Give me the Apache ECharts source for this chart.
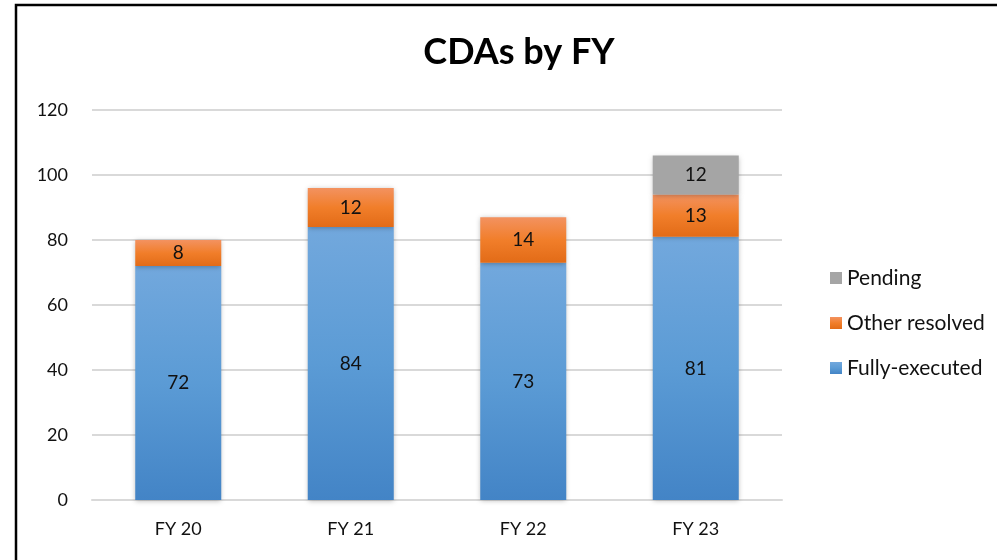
<!DOCTYPE html>
<html>
<head>
<meta charset="utf-8">
<script src="https://cdn.jsdelivr.net/npm/echarts@6/dist/echarts.min.js"></script>
<style>html,body{margin:0;padding:0;background:#fff}#c{width:997px;height:560px}</style>
</head>
<body>
<div id="c"></div>
<script>
const categories = ['FY 20', 'FY 21', 'FY 22', 'FY 23'];
const fullyExecuted = [72, 84, 73, 81];
const otherResolved = [8, 12, 14, 13];
const pending = [null, null, null, 12];
const legendOrder = ['Pending', 'Other resolved', 'Fully-executed'];

const FONT = 'Lato, "Open Sans", "Noto Sans", sans-serif';
const chart = echarts.init(document.getElementById('c'), null, {renderer: 'canvas'});

function grad(top, mid, bottom) {
  return new echarts.graphic.LinearGradient(0, 0, 0, 1, [
    {offset: 0, color: top}, {offset: 0.5, color: mid}, {offset: 1, color: bottom}
  ]);
}
const shadow = {shadowBlur: 5, shadowColor: 'rgba(0,0,0,0.28)', shadowOffsetX: 0, shadowOffsetY: 1};
const lbl = {show: true, position: 'inside', color: '#111', fontSize: 19, fontFamily: FONT};

chart.setOption({
  backgroundColor: '#fff',
  animation: false,
  title: {
    text: 'CDAs by FY', left: 514, top: 29, textAlign: 'center',
    textStyle: {fontSize: 36, fontWeight: 'bold', color: '#000', fontFamily: FONT}
  },
  graphic: [{
    type: 'rect', shape: {x: 16, y: 5, width: 1000, height: 600},
    style: {fill: 'none', stroke: '#000', lineWidth: 2.5}, z: 100
  }],
  legend: {
    orient: 'vertical', left: 825, top: 262, itemGap: 23,
    itemWidth: 12, itemHeight: 12, icon: 'rect',
    data: legendOrder,
    textStyle: {fontSize: 21, lineHeight: 22, color: '#111', fontFamily: FONT, padding: [0, 0, 0, 0]}
  },
  grid: {left: 92, right: 215, top: 110, bottom: 60},
  xAxis: {
    type: 'category', data: categories,
    axisLine: {lineStyle: {color: '#d9d9d9', width: 2}},
    axisTick: {show: false},
    axisLabel: {fontSize: 18, color: '#111', fontFamily: FONT, margin: 20}
  },
  yAxis: {
    type: 'value', min: 0, max: 120, interval: 20,
    axisLine: {show: false}, axisTick: {show: false},
    splitLine: {lineStyle: {color: '#d9d9d9', width: 2}},
    axisLabel: {fontSize: 18, color: '#111', fontFamily: FONT, margin: 24}
  },
  series: [
    {
      name: 'Fully-executed', type: 'bar', stack: 't', data: fullyExecuted, barWidth: 86,
      itemStyle: Object.assign({color: grad('#72a8dd', '#5b9bd5', '#4384c6')}, shadow),
      label: lbl
    },
    {
      name: 'Other resolved', type: 'bar', stack: 't', data: otherResolved, barWidth: 86,
      itemStyle: Object.assign({color: grad('#f39260', '#f17e2a', '#e26b17')}, shadow),
      label: lbl
    },
    {
      name: 'Pending', type: 'bar', stack: 't', data: pending, barWidth: 86,
      itemStyle: Object.assign({color: '#a5a5a5'}, shadow),
      label: lbl
    }
  ]
});
</script>
</body>
</html>
